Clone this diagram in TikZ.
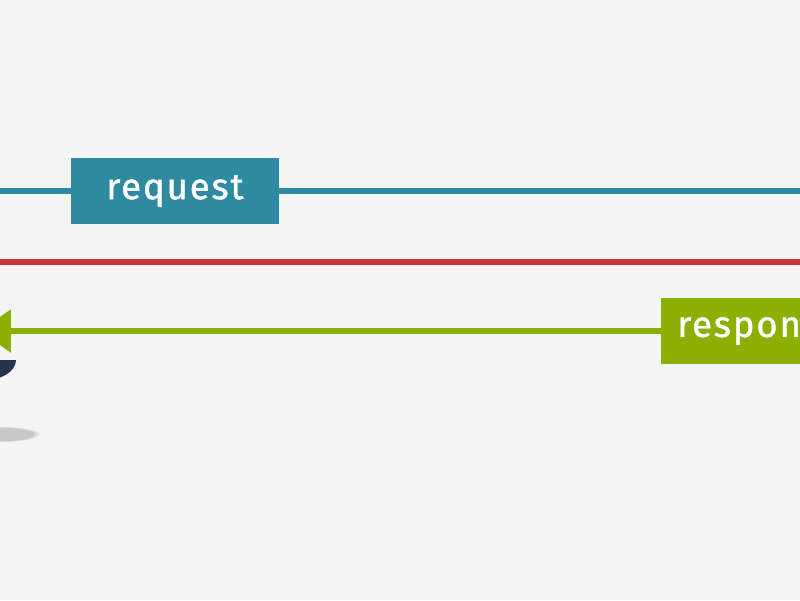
\documentclass[tikz,border=0pt]{standalone}
\usepackage{fontspec}
\setmainfont{Fira Sans}
\newfontfamily\lblfont[LetterSpace=5,FakeBold=1.2]{Fira Sans}
\usetikzlibrary{arrows.meta,fadings}
\definecolor{bgc}{HTML}{F4F4F4}
\definecolor{reqc}{HTML}{2E8AA0}
\definecolor{errc}{HTML}{CF3339}
\definecolor{resc}{HTML}{8CB000}
\definecolor{navc}{HTML}{24344A}
\begin{document}
\begin{tikzpicture}[x=0.025cm,y=-0.025cm,
lbl/.style={minimum height=1.65cm,inner sep=0pt,text=white,font=\lblfont\fontsize{26}{30}\selectfont},
wire/.style={line width=3.6pt}]
\pgfmathsetmacro{\yq}{191}
\pgfmathsetmacro{\yr}{262}
\pgfmathsetmacro{\ys}{331}
\useasboundingbox (0,0) rectangle (800,600);
\fill[bgc] (0,0) rectangle (800,600);
\clip (0,0) rectangle (800,600);
\coordinate (ql) at (-20,\yq);\coordinate (qr) at (820,\yq);
\coordinate (rl) at (-20,\yr);\coordinate (rr) at (820,\yr);
\coordinate (sl) at (-20,\ys);
\node[lbl,fill=reqc,minimum width=5.2cm] (req) at (175,\yq) {request};
\draw[wire,reqc] (ql)--(req)--(qr);
\draw[wire,errc] (rl)--(rr);
\node[lbl,fill=resc,inner xsep=0.4cm,anchor=west] (res) at (661,\ys) {response};
\draw[wire,resc,-{Triangle[length=22pt,width=30pt]}] (res)--(sl);
\fill[navc] (-60,360)--(16,360) arc[start angle=0,end angle=90,x radius=31,y radius=20]--cycle;
\fill[black,opacity=0.18,path fading=circle with fuzzy edge 20 percent] (0,434) ellipse[x radius=40,y radius=8];
\end{tikzpicture}
\end{document}
